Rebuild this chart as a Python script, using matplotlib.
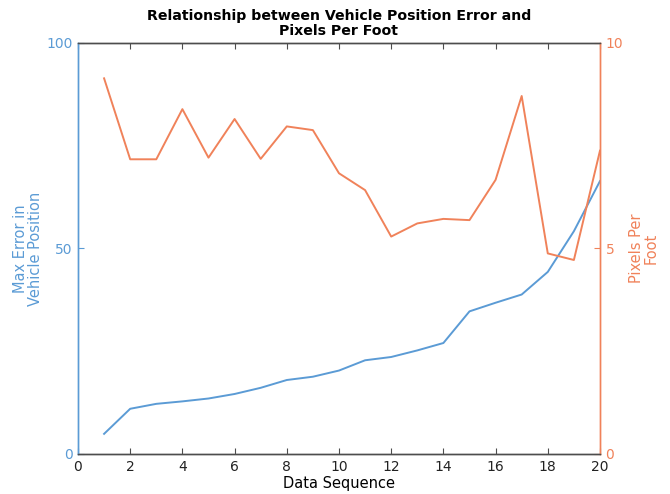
import matplotlib
matplotlib.use("Agg")
import matplotlib.pyplot as plt

# data
seq = list(range(1, 21))
max_error = [4.9, 11.0, 12.2, 12.8, 13.5, 14.6, 16.1, 18.0, 18.8, 20.3,
             22.8, 23.6, 25.2, 27.0, 34.7, 36.8, 38.8, 44.3, 54.2, 66.4]
pixels_per_foot = [9.14, 7.17, 7.17, 8.39, 7.21, 8.15, 7.18, 7.97, 7.88, 6.83,
                   6.42, 5.29, 5.61, 5.72, 5.69, 6.67, 8.71, 4.88, 4.72, 7.38]

blue = "#5b9bd5"
orange = "#f0825a"
grey = "#4d4d4d"

fig = plt.figure(figsize=(6.7, 4.94), dpi=100)
ax = fig.add_axes([0.1164, 0.081, 0.7791, 0.832])
ax2 = ax.twinx()

ax.plot(seq, max_error, color=blue, lw=1.4)
ax2.plot(seq, pixels_per_foot, color=orange, lw=1.4)

ax.set_xlim(0, 20)
ax.set_ylim(0, 100)
ax2.set_ylim(0, 10)
ax.set_xticks(range(0, 21, 2))
ax.set_yticks([0, 50, 100])
ax2.set_yticks([0, 5, 10])

ax.set_xlabel("Data Sequence", fontsize=10.5, labelpad=2)
ax.set_ylabel("Max Error in\nVehicle Position", color=blue, fontsize=10.5,
              labelpad=2, linespacing=1.0)
ax2.set_ylabel("Pixels Per\nFoot", color=orange, fontsize=10.5, labelpad=4,
               linespacing=1.0)
ax.set_title("Relationship between Vehicle Position Error and\nPixels Per Foot",
             fontsize=10.2, fontweight="bold", pad=6, linespacing=1.05)

for a in (ax, ax2):
    for s in a.spines.values():
        s.set_color(grey)
        s.set_linewidth(1.0)
ax2.spines["left"].set_color(blue)
ax2.spines["right"].set_color(orange)
ax.spines["left"].set_color(blue)
ax.spines["right"].set_color(orange)

ax.tick_params(axis="x", direction="in", top=True, colors=grey, labelsize=10, pad=4, length=4)
ax.tick_params(axis="x", labelcolor="#222222")
ax.tick_params(axis="y", direction="in", colors=blue, labelsize=10, length=4, pad=4)
ax2.tick_params(axis="y", direction="in", colors=orange, labelsize=10, length=4, pad=4)

fig.savefig("out.png", dpi=100)
